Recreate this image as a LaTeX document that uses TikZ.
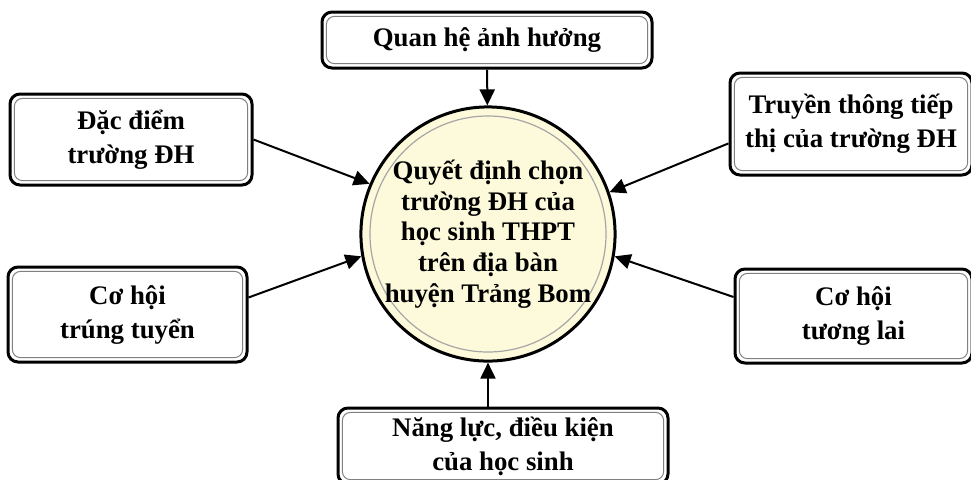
\documentclass[tikz,border=0pt]{standalone}
\usepackage{fontspec}
\setmainfont{Liberation Serif}
\usetikzlibrary{arrows,arrows.meta,shapes,positioning}
\definecolor{kemnhat}{HTML}{FCFADA}

\begin{document}
\begin{tikzpicture}[x=0.5pt,y=-0.5pt,->,>={Triangle[length=8pt,width=7.5pt]},line width=1pt,
    box/.style={draw,rectangle,rounded corners=5pt,line width=1.5pt,fill=white,
      align=center,inner sep=0pt,font=\fontsize{13.4}{17}\selectfont\bfseries,
      path picture={\draw[gray,line width=0.5pt,rounded corners=4pt]
        ([shift={(2.2pt,-2.2pt)}]path picture bounding box.north west) rectangle
        ([shift={(-2.2pt,2.2pt)}]path picture bounding box.south east);}},
    goal/.style={draw,circle,line width=1.5pt,fill=kemnhat,minimum size=127pt,
      align=center,inner sep=0pt,font=\fontsize{13.4}{15.3}\selectfont\bfseries,
      path picture={\draw[gray!70,line width=0.6pt]
        (path picture bounding box.center) circle[radius=59pt];}}]

        \useasboundingbox (0,0) rectangle (971,479);

        \node[goal] (qd) at (488,234) {Quyết định chọn\\trường ĐH của\\học sinh THPT\\trên địa bàn\\huyện Trảng Bom};

        \node[box,minimum width=165pt,minimum height=28pt] (qh) at (487,40) {Quan hệ ảnh hưởng};
        \node[box,minimum width=121pt,minimum height=45.5pt] (dd) at (131,139.5) {Đặc điểm\\trường ĐH};
        \node[box,minimum width=121pt,minimum height=51pt] (tt) at (851,124) {Truyền thông tiếp\\thị của trường ĐH};
        \node[box,minimum width=119.5pt,minimum height=47.5pt] (ct) at (127.5,314.5) {Cơ hội\\trúng tuyển};
        \node[box,minimum width=118.5pt,minimum height=47pt] (tl) at (853.5,316) {Cơ hội\\tương lai};
        \node[box,minimum width=165pt,minimum height=38pt] (nl) at (503,446) {Năng lực, điều kiện\\của học sinh};

        \path (qh) edge (qd)
              (dd.east) edge (qd.157)
              (tt.189) edge (qd.19)
              (ct.8) edge (qd.190)
              (tl.171) edge (qd.350)
              (qd |- nl.north) edge (qd);
\end{tikzpicture}
\end{document}
